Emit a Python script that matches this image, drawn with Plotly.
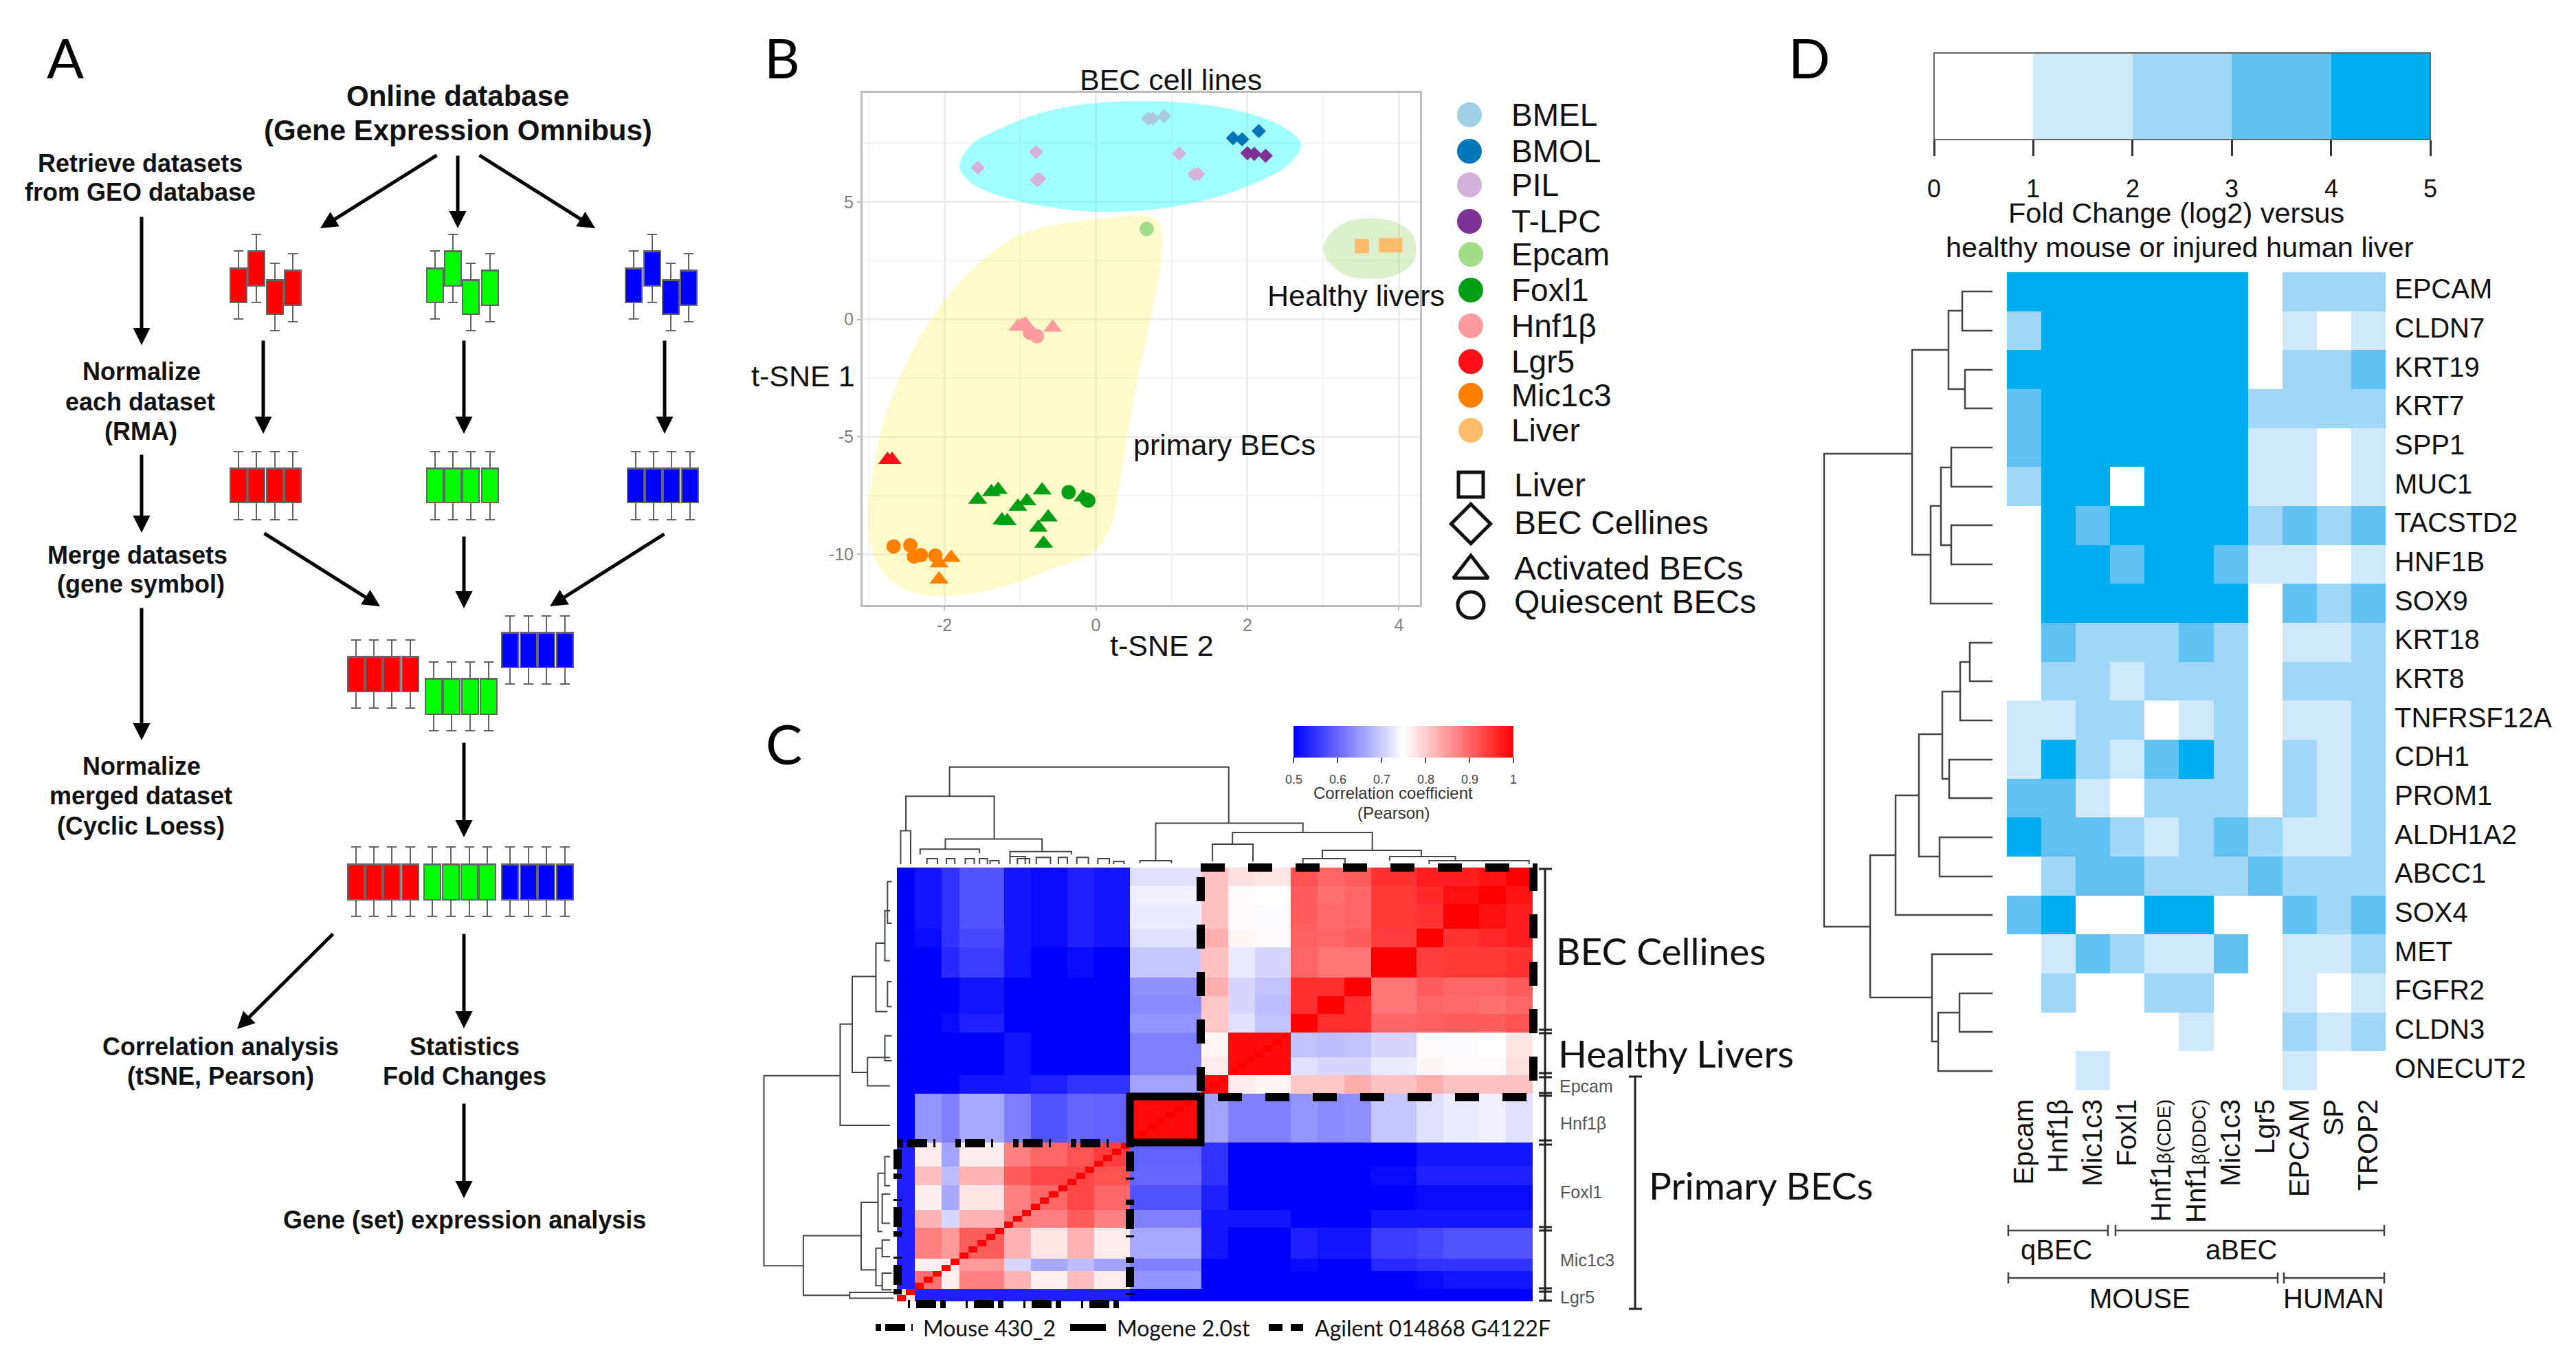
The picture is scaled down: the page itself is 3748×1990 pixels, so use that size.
import numpy as np
import plotly.graph_objects as go

W, H = 3748, 1990
SANS = "Liberation Sans"
HUM = "Lato"

# ---------------- Panel A : pipeline schematic ----------------
BOX_X_ROW1 = {"red": [347, 373, 400, 426], "green": [633, 659, 685, 713], "blue": [922, 949, 976, 1002]}
BOX_BOTTOM_ROW1 = [440, 416, 457, 444]
BOX_TOP_ROW1 = [390, 365, 407, 393]
BOX_LOW_ROW1 = [464, 440, 481, 468]
BOX_HIGH_ROW1 = [365, 341, 383, 369]
BOX_X_ROW2 = {"red": [347, 373, 400, 426], "green": [633, 659, 685, 713], "blue": [925, 951, 977, 1004]}
ROW2 = (731, 681, 756, 657)
BOX_X_ROW3 = {"red": [518, 544, 570, 597], "green": [631, 657, 684, 711], "blue": [742, 769, 795, 822]}
ROW3 = {"red": (1006, 955, 1030, 931), "green": (1039, 987, 1063, 963), "blue": (971, 920, 995, 896)}
BOX_X_ROW4 = {"red": [518, 544, 570, 597], "green": [629, 656, 683, 709], "blue": [742, 769, 795, 822]}
ROW4 = (1309, 1257, 1333, 1232)
BOX_COL = {"red": "#ff0000", "green": "#00ff00", "blue": "#0000ff"}

ARROWS_A = [
    (206, 314, 206, 502), (206, 660, 206, 775), (206, 883, 206, 1077),
    (637, 225, 466, 332), (666, 225, 666, 332), (696, 225, 866, 332),
    (383, 494, 383, 631), (675, 494, 675, 631), (967, 494, 967, 631),
    (383, 775, 553, 882), (675, 779, 675, 885), (968, 776, 800, 882),
    (675, 1079, 675, 1218), (486, 1357, 345, 1497), (675, 1357, 675, 1496),
    (675, 1604, 675, 1743),
]
TEXT_A = [
    ("Online database", 666, 139, 42), ("(Gene Expression Omnibus)", 666, 189, 42),
    ("Retrieve datasets", 204, 237, 36), ("from GEO database", 204, 279, 36),
    ("Normalize", 206, 540, 36), ("each dataset", 204, 584, 36), ("(RMA)", 205, 627, 36),
    ("Merge datasets", 200, 807, 36), ("(gene symbol)", 205, 849, 36),
    ("Normalize", 206, 1114, 36), ("merged dataset", 205, 1157, 36), ("(Cyclic Loess)", 205, 1201, 36),
    ("Correlation analysis", 321, 1522, 36), ("(tSNE, Pearson)", 321, 1565, 36),
    ("Statistics", 676, 1522, 36), ("Fold Changes", 676, 1565, 36),
    ("Gene (set) expression analysis", 676, 1774, 36),
]
PANEL_LETTERS = [("A", 95, 83), ("B", 1138, 83), ("C", 1140, 1081), ("D", 2632, 83)]

# ---------------- Panel B : t-SNE ----------------
BLOB_CYAN_X = [-1.80, -1.65, -1.24, -0.72, -0.09, 0.61, 1.30, 1.94, 2.46, 2.71, 2.55, 2.11, 1.48, 0.72, -0.03, -0.72, -1.30, -1.65, -1.80]
BLOB_CYAN_Y = [6.50, 7.42, 8.16, 8.80, 9.19, 9.30, 9.19, 8.84, 8.22, 7.45, 6.62, 5.82, 5.11, 4.67, 4.58, 4.84, 5.29, 5.82, 6.50]
BLOB_GREEN_X = [3.00, 3.12, 3.35, 3.62, 3.95, 4.17, 4.23, 4.17, 3.95, 3.62, 3.30, 3.10, 3.00]
BLOB_GREEN_Y = [3.02, 3.75, 4.20, 4.31, 4.15, 3.65, 3.02, 2.35, 1.88, 1.72, 1.88, 2.35, 3.02]
BLOB_YELLOW_X = [0.61, 0.81, 0.87, 0.84, 0.72, 0.55, 0.41, 0.29, 0.19, -0.03, -0.55, -1.24, -1.94, -2.46, -2.81, -2.97, -3.00, -2.92, -2.78, -2.52, -2.11, -1.59, -1.01, -0.43, 0.14, 0.61]
BLOB_YELLOW_Y = [4.44, 4.22, 3.51, 2.09, -0.04, -2.52, -5.00, -7.49, -8.91, -9.88, -10.59, -11.39, -11.78, -11.57, -10.77, -9.62, -8.02, -6.07, -4.12, -1.99, 0.32, 2.27, 3.60, 4.08, 4.31, 4.44]

TSNE = [
    ("PIL", "diamond", "#d7b2d8", [-1.56, -0.79, -0.78, -0.75, 1.10, 1.30, 1.35], [6.46, 7.13, 5.94, 5.98, 7.06, 6.18, 6.19]),
    ("BMEL", "diamond", "#a9c9dc", [0.69, 0.75, 0.90], [8.55, 8.55, 8.66]),
    ("BMOL", "diamond", "#0072b9", [1.81, 1.93, 2.15], [7.72, 7.67, 8.02]),
    ("T-LPC", "diamond", "#7b3294", [2.00, 2.09, 2.24], [7.08, 7.05, 6.97]),
    ("Epcam", "circle", "#a1dd88", [0.67], [3.85]),
    ("Foxl1", "triangle-up", "#009f15", [-1.56, -1.38, -1.29, -0.71, -0.17, -0.91, -1.03, -1.24, -1.17, -0.63, -0.76, -0.69],
     [-7.67, -7.35, -7.26, -7.28, -7.58, -7.74, -7.97, -8.55, -8.59, -8.43, -8.87, -9.55]),
    ("Foxl1", "circle", "#009f15", [-0.36, -0.12, -0.10], [-7.36, -7.67, -7.72]),
    ("Hnf1b", "triangle-up", "#ff9a9e", [-1.03, -0.93, -0.98, -0.57], [-0.30, -0.21, -0.27, -0.35]),
    ("Hnf1b", "circle", "#ff9a9e", [-0.87, -0.78], [-0.57, -0.71]),
    ("Lgr5", "triangle-up", "#ff1018", [-2.75, -2.69], [-5.98, -5.98]),
    ("Mic1c3", "circle", "#ff8000", [-2.67, -2.45, -2.40, -2.31, -2.12], [-9.67, -9.62, -10.10, -10.04, -10.06]),
    ("Mic1c3", "triangle-up", "#ff8000", [-1.91, -2.07, -2.07], [-10.15, -10.38, -11.07]),
    ("Liver", "square", "#ffbd6b", [3.51, 3.83, 3.95], [3.12, 3.16, 3.16]),
]
LEG_COLORS = [("BMEL", "#9ecfe4", 2138, 167), ("BMOL", "#0077b8", 2138, 220), ("PIL", "#d2b1d8", 2138, 269),
              ("T-LPC", "#7b3294", 2138, 322), ("Epcam", "#a1dd88", 2140, 370), ("Foxl1", "#009f15", 2140, 422),
              ("Hnf1β", "#ff9a9e", 2140, 474), ("Lgr5", "#ff1018", 2140, 526), ("Mic1c3", "#ff8000", 2140, 575),
              ("Liver", "#ffbd6b", 2140, 626)]
LEG_SHAPES = [("Liver", "square-open", 36, 705, 705), ("BEC Cellines", "diamond-open", 44, 762, 760),
              ("Activated BECs", "triangle-up-open", 44, 830, 826), ("Quiescent BECs", "circle-open", 38, 880, 875)]

# ---------------- Panel C : correlation heatmap ----------------
GROUP_SIZES = [2, 3, 2, 5, 3, 4, 3, 4, 8, 3, 3, 4, 3, 3, 3, 5, 3, 4, 3, 3]
CORR_UPPER = [
    [.78, .53, .53, .53, .53, .53, .53, .53, .50, .50, .50, .50, .50, .50, .50, .50, .50, .50, .50, .50],
    [.89, .765, .875, .825, .765, .815, .77, .645, .50, .50, .50, .50, .50, .50, .50, .51, .52, .52, .52],
    [.775, .85, .71, .665, .685, .66, .625, .50, .50, .50, .51, .50, .50, .54, .55, .55, .55, .55],
    [.91, .825, .775, .825, .77, .665, .52, .50, .50, .53, .52, .52, .56, .57, .58, .58, .58],
    [.88, .875, .91, .875, .625, .52, .52, .52, .50, .50, .50, .52, .52, .52, .52, .52],
    [.90, .93, .90, .58, .53, .50, .50, .50, .50, .50, .50, .51, .51, .51, .51],
    [.93, .92, .60, .55, .50, .50, .50, .50, .50, .51, .53, .53, .53, .53],
    [.94, .595, .55, .50, .50, .50, .50, .50, .50, .52, .52, .52, .52],
    [.99, .66, .625, .625, .645, .635, .64, .695, .72, .73, .735, .72],
    [.99, .77, .76, .805, .805, .83, .81, .83, .81, .81, .81],
    [.99, .99, .72, .71, .71, .73, .76, .755, .755, .78],
    [.99, .69, .685, .69, .71, .755, .745, .75, .775],
    [1.0, .955, .955, .90, .905, .91, .91, .92],
    [1.0, .955, .885, .90, .895, .89, .90],
    [1.0, .885, .91, .90, .90, .91],
    [1.0, .94, .945, .945, .95],
    [1.0, .95, .96, .97],
    [1.0, .985, .97],
    [1.0, .98],
    [1.0],
]
TOP_DENDRO = [(368, 899, 125, 195, 260), (285, 453, 195, 278, 298), (275, 294, 278, 358, 358), (360, 544, 298, 322, 328),
              (312, 425, 322, 335, 332), (483, 600, 328, 340, 335), (325, 345, 345, 358, 358), (362, 378, 345, 358, 358),
              (398, 415, 345, 358, 358), (425, 440, 345, 358, 358), (445, 462, 350, 358, 358), (483, 512, 340, 358, 358),
              (497, 520, 345, 358, 358), (533, 560, 342, 358, 358), (575, 592, 342, 358, 358), (610, 632, 342, 358, 358),
              (650, 672, 345, 358, 358), (680, 700, 352, 358, 358), (760, 1040, 260, 352, 282), (906, 1172, 282, 310, 325),
              (868, 945, 310, 352, 352), (1077, 1265, 325, 345, 340), (730, 790, 350, 356, 356), (1040, 1120, 345, 356, 356),
              (1205, 1330, 340, 350, 350), (1280, 1470, 350, 358, 358)]
LEFT_DENDRO = [(15, 866, 1322, 160, 90), (160, 742, 985, 183, 255), (183, 628, 858, 228, 212), (228, 548, 712, 245, 250),
               (212, 822, 890, 255, 255), (90, 1250, 1393, 200, 178), (200, 1170, 1332, 232, 228), (178, 1386, 1400, 262, 262),
               (245, 470, 590, 255, 255), (250, 400, 500, 258, 258), (250, 640, 700, 258, 258), (245, 770, 830, 258, 258),
               (232, 1100, 1240, 245, 240), (228, 1280, 1370, 240, 240), (245, 1060, 1130, 255, 255), (240, 1150, 1220, 255, 255),
               (240, 1260, 1300, 255, 255), (240, 1340, 1380, 258, 258)]
C_LABELS_BIG = [("BEC Cellines", 2262, 1383), ("Healthy Livers", 2265, 1532), ("Primary BECs", 2397, 1724)]
C_LABELS_SMALL = [("Epcam", 2267, 1580), ("Hnf1β", 2268, 1634), ("Foxl1", 2268, 1734), ("Mic1c3", 2268, 1833), ("Lgr5", 2268, 1887)]
C_BRACKET_Y = [1264, 1498, 1503, 1561, 1567, 1590, 1594, 1659, 1665, 1785, 1790, 1874, 1879, 1892]
C_LEGEND = [("Mouse 430_2", 1341, "8px,6px,29px,9px,3px,29px", 1274, 1328), ("Mogene 2.0st", 1623, "solid", 1557, 1609),
            ("Agilent 014868 G4122F", 1911, "20px,12px", 1846, 1896)]
C_TICKS = [0.5, 0.6, 0.7, 0.8, 0.9, 1]

# ---------------- Panel D : fold change heatmap ----------------
D_GENES = ["EPCAM", "CLDN7", "KRT19", "KRT7", "SPP1", "MUC1", "TACSTD2", "HNF1B", "SOX9", "KRT18", "KRT8", "TNFRSF12A",
           "CDH1", "PROM1", "ALDH1A2", "ABCC1", "SOX4", "MET", "FGFR2", "CLDN3", "ONECUT2"]
SMALLB = '<span style="font-size:28px">β(%s)</span>'
D_SAMPLES = ["Epcam", "Hnf1β", "Mic1c3", "Foxl1", "Hnf1" + SMALLB % "CDE", "Hnf1" + SMALLB % "DDC", "Mic1c3", "Lgr5", "EPCAM", "SP", "TROP2"]
D_FOLD = [
    [4.5, 4.5, 4.5, 4.5, 4.5, 4.5, 4.5, 0.5, 2.5, 2.5, 2.5],
    [2.5, 4.5, 4.5, 4.5, 4.5, 4.5, 4.5, 0.5, 1.5, 0.5, 1.5],
    [4.5, 4.5, 4.5, 4.5, 4.5, 4.5, 4.5, 0.5, 2.5, 2.5, 3.5],
    [3.5, 4.5, 4.5, 4.5, 4.5, 4.5, 4.5, 2.5, 2.5, 2.5, 2.5],
    [3.5, 4.5, 4.5, 4.5, 4.5, 4.5, 4.5, 1.5, 1.5, 0.5, 1.5],
    [2.5, 4.5, 4.5, 0.5, 4.5, 4.5, 4.5, 1.5, 1.5, 0.5, 1.5],
    [0.5, 4.5, 3.5, 4.5, 4.5, 4.5, 4.5, 2.5, 3.5, 2.5, 3.5],
    [0.5, 4.5, 4.5, 3.5, 4.5, 4.5, 3.5, 1.5, 1.5, 0.5, 1.5],
    [0.5, 4.5, 4.5, 4.5, 4.5, 4.5, 4.5, 0.5, 3.5, 2.5, 3.5],
    [0.5, 3.5, 2.5, 2.5, 2.5, 3.5, 2.5, 0.5, 1.5, 1.5, 2.5],
    [0.5, 2.5, 2.5, 1.5, 2.5, 2.5, 2.5, 0.5, 2.5, 2.5, 2.5],
    [1.5, 1.5, 2.5, 2.5, 0.5, 1.5, 2.5, 0.5, 1.5, 1.5, 2.5],
    [1.5, 4.5, 2.5, 1.5, 3.5, 4.5, 2.5, 0.5, 2.5, 1.5, 2.5],
    [3.5, 3.5, 1.5, 0.5, 2.5, 2.5, 2.5, 0.5, 2.5, 1.5, 2.5],
    [4.5, 3.5, 3.5, 2.5, 1.5, 2.5, 3.5, 2.5, 1.5, 1.5, 2.5],
    [0.5, 2.5, 3.5, 3.5, 2.5, 2.5, 2.5, 3.5, 2.5, 2.5, 2.5],
    [3.5, 4.5, 0.5, 0.5, 4.5, 4.5, 0.5, 0.5, 3.5, 2.5, 3.5],
    [0.5, 1.5, 3.5, 2.5, 1.5, 1.5, 3.5, 0.5, 1.5, 1.5, 2.5],
    [0.5, 2.5, 0.5, 0.5, 2.5, 2.5, 0.5, 0.5, 1.5, 0.5, 1.5],
    [0.5, 0.5, 0.5, 0.5, 0.5, 1.5, 0.5, 0.5, 2.5, 1.5, 2.5],
    [0.5, 0.5, 1.5, 0.5, 0.5, 0.5, 0.5, 0.5, 1.5, 0.5, 0.5],
]
D_DENDRO = [(2855, 424, 481, 2899, 2899), (2859, 538, 594, 2899, 2899), (2835, 452, 566, 2855, 2859),
            (2839, 651, 708, 2899, 2899), (2839, 764, 821, 2899, 2899), (2824, 680, 793, 2839, 2839),
            (2809, 736, 878, 2824, 2899), (2782, 509, 807, 2835, 2809), (2654, 660, 1348, 2782, 2721),
            (2866, 935, 991, 2899, 2899), (2852, 963, 1048, 2866, 2899), (2836, 1105, 1161, 2899, 2899),
            (2826, 1006, 1133, 2852, 2836), (2822, 1218, 1275, 2899, 2899), (2792, 1068, 1246, 2826, 2822),
            (2758, 1157, 1331, 2792, 2899), (2851, 1445, 1501, 2899, 2899), (2820, 1473, 1558, 2851, 2899),
            (2811, 1388, 1515, 2899, 2820), (2721, 1244, 1451, 2758, 2811)]
D_BRACKETS = [(2922, 3067, 1790), (3078, 3469, 1790), (2922, 3314, 1859), (3323, 3469, 1859)]
D_BRACKET_TEXT = [("qBEC", 2992, 1818), ("aBEC", 3261, 1818), ("MOUSE", 3113, 1889), ("HUMAN", 3395, 1889)]
D_LEVELS = ["#ffffff", "#cfe9fb", "#a0d6f7", "#62c1f3", "#00aeef"]
D_TICKS = [0, 1, 2, 3, 4, 5]

# ---------------- figure ----------------
fig = go.Figure()
anns, shapes = [], []


def text(s, x, y, size, family=SANS, color="#111111", xanchor="center", **kw):
    anns.append(dict(text=s, x=x, y=y, xref="x", yref="y", showarrow=False, xanchor=xanchor, yanchor="middle",
                     font=dict(family=family, size=size, color=color), **kw))


def lines(xs, ys, color="#444444", width=2.5, **kw):
    fig.add_trace(go.Scatter(x=xs, y=ys, mode="lines", line=dict(color=color, width=width, **kw),
                             hoverinfo="skip", showlegend=False, xaxis="x", yaxis="y"))


def dom(a, b, total):
    return [a / total, b / total]


def ydom(top, bottom):
    return [1 - bottom / H, 1 - top / H]


# Panel A boxes (pixel-like y axis runs downward, so the smaller value is the upper edge)
for name in ["red", "green", "blue"]:
    xs, q1, q3, lo, hi = [], [], [], [], []
    xs += BOX_X_ROW1[name]; q3 += BOX_BOTTOM_ROW1; q1 += BOX_TOP_ROW1; hi += BOX_LOW_ROW1; lo += BOX_HIGH_ROW1
    xs += BOX_X_ROW2[name]; q3 += [ROW2[0]] * 4; q1 += [ROW2[1]] * 4; hi += [ROW2[2]] * 4; lo += [ROW2[3]] * 4
    r = ROW3[name]
    xs += BOX_X_ROW3[name]; q3 += [r[0]] * 4; q1 += [r[1]] * 4; hi += [r[2]] * 4; lo += [r[3]] * 4
    xs += BOX_X_ROW4[name]; q3 += [ROW4[0]] * 4; q1 += [ROW4[1]] * 4; hi += [ROW4[2]] * 4; lo += [ROW4[3]] * 4
    fig.add_trace(go.Box(x=xs, q1=q1, median=q1, q3=q3, lowerfence=lo, upperfence=hi, width=24, whiskerwidth=0.6,
                         fillcolor=BOX_COL[name], line=dict(color="#666666", width=2), boxpoints=False,
                         hoverinfo="skip", showlegend=False, xaxis="x", yaxis="y"))

for x0, y0, x1, y1 in ARROWS_A:
    anns.append(dict(x=x1, y=y1, ax=x0, ay=y0, xref="x", yref="y", axref="x", ayref="y", showarrow=True, text="",
                     arrowhead=2, arrowsize=1, arrowwidth=5, arrowcolor="#000000", standoff=0))
for s, x, y, size in TEXT_A:
    text("<b>%s</b>" % s, x, y, size)
for s, x, y in PANEL_LETTERS:
    text(s, x, y, 80, family=HUM, color="#000000")

# Panel B
for bx, by, col in [(BLOB_CYAN_X, BLOB_CYAN_Y, "rgba(0,255,255,0.37)"),
                    (BLOB_GREEN_X, BLOB_GREEN_Y, "rgba(130,200,80,0.28)"),
                    (BLOB_YELLOW_X, BLOB_YELLOW_Y, "rgba(255,240,100,0.35)")]:
    fig.add_trace(go.Scatter(x=bx, y=by, mode="lines", fill="toself", fillcolor=col,
                             line=dict(shape="spline", width=0, color="rgba(0,0,0,0)"), hoverinfo="skip",
                             showlegend=False, xaxis="x2", yaxis="y2"))
SYM_SIZE = {"diamond": 16, "circle": 21, "triangle-up": 24, "square": 21}
for name, sym, col, xs, ys in TSNE:
    fig.add_trace(go.Scatter(x=xs, y=ys, mode="markers", name=name, showlegend=False, hoverinfo="skip",
                             marker=dict(symbol=sym, size=SYM_SIZE[sym], color=col, line=dict(width=0)),
                             xaxis="x2", yaxis="y2"))
text("BEC cell lines", 1703, 116, 43)
text("Healthy livers", 1842, 430, 43, xanchor="left")
text("primary BECs", 1647, 647, 43, xanchor="left")
text("t-SNE 1", 1168, 547, 43)
text("t-SNE 2", 1690, 939, 43)

for s, col, x, y in LEG_COLORS:
    fig.add_trace(go.Scatter(x=[x], y=[y], mode="markers", marker=dict(size=36, color=col), hoverinfo="skip",
                             showlegend=False, xaxis="x", yaxis="y"))
    text(s, 2197, y, 46, xanchor="left")
for s, sym, size, my, ty in LEG_SHAPES:
    fig.add_trace(go.Scatter(x=[2140], y=[my], mode="markers", hoverinfo="skip", showlegend=False, xaxis="x", yaxis="y",
                             marker=dict(symbol=sym, size=size, color="#111111", line=dict(width=5, color="#111111"))))
    text(s, 2201, ty, 48, xanchor="left")

# Panel C
N = sum(GROUP_SIZES)
blocks = np.zeros((len(GROUP_SIZES), len(GROUP_SIZES)))
for i, row in enumerate(CORR_UPPER):
    for k, v in enumerate(row):
        blocks[i, i + k] = v
        blocks[i + k, i] = v
z_c = np.repeat(np.repeat(blocks, GROUP_SIZES, axis=0), GROUP_SIZES, axis=1)
np.fill_diagonal(z_c, 1.0)
fig.add_trace(go.Heatmap(z=z_c.tolist(), zmin=0.5, zmax=1, hoverinfo="skip",
                         colorscale=[[0, "#0000ff"], [0.5, "#ffffff"], [1, "#ff0000"]], xaxis="x3", yaxis="y3",
                         colorbar=dict(orientation="h", lenmode="pixels", len=320, thicknessmode="pixels", thickness=46,
                                       x=1882 / W, xanchor="left", y=1 - 1110 / H, yanchor="bottom", xpad=0, ypad=0,
                                       tickvals=C_TICKS, showticklabels=False,
                                       ticks="outside", ticklen=8, tickwidth=2, tickcolor="#555555",
                                       outlinewidth=0)))
for t in C_TICKS:
    text(str(t), 1882 + (t - 0.5) * 640, 1134, 18, color="#444444")
text("Correlation coefficient", 2027, 1153, 24, color="#333333")
text("(Pearson)", 2027, 1182, 24, color="#333333")


def cx(d):
    return 1100 + d / 1.307


def cy(d):
    return 1040 + d / 1.65


xs, ys = [], []
for xl, xr, yt, yl, yr in TOP_DENDRO:
    xs += [cx(xl), cx(xl), cx(xr), cx(xr), None]
    ys += [cy(yl), cy(yt), cy(yt), cy(yr), None]
for x, yt, yb, xct, xcb in LEFT_DENDRO:
    xs += [cx(xct), cx(x), cx(x), cx(xcb), None]
    ys += [cy(yt), cy(yt), cy(yb), cy(yb), None]
lines(xs, ys, color="#444444", width=2)

# right brackets of C
bx, by = [2248, 2248, None], [C_BRACKET_Y[0], C_BRACKET_Y[-1], None]
for yy in C_BRACKET_Y:
    bx += [2239, 2258, None]
    by += [yy, yy, None]
bx += [2379, 2379, None, 2370, 2389, None, 2370, 2389, None]
by += [1566, 1904, None, 1566, 1566, None, 1904, 1904, None]
lines(bx, by, color="#222222", width=3)
for s, x, y in C_LABELS_BIG:
    text(s, x, y, 55, family=HUM, xanchor="left")
for s, x, y in C_LABELS_SMALL:
    text(s, x, y, 25, family=SANS, color="#555555", xanchor="left")

shapes.append(dict(type="rect", xref="x", yref="y", x0=1747, x1=2231, y0=1262, y1=1596,
                   line=dict(color="#000000", width=12, dash="35px,34px")))
shapes.append(dict(type="rect", xref="x", yref="y", x0=1644, x1=1747, y0=1595, y1=1662,
                   line=dict(color="#000000", width=11)))
shapes.append(dict(type="rect", xref="x", yref="y", x0=1306, x1=1644, y0=1663, y1=1897,
                   line=dict(color="#000000", width=12, dash="8px,6px,29px,9px,3px,29px")))
for s, tx, dash, l0, l1 in C_LEGEND:
    fig.add_trace(go.Scatter(x=[l0, l1], y=[1931, 1931], mode="lines", hoverinfo="skip", showlegend=False,
                             line=dict(color="#000000", width=10, dash=dash), xaxis="x", yaxis="y"))
    text(s, tx, 1931, 32, family=HUM, xanchor="left")

# Panel D
cs = []
for i, c in enumerate(D_LEVELS):
    cs += [[i / 5, c], [(i + 1) / 5, c]]
fig.add_trace(go.Heatmap(z=D_FOLD, zmin=0, zmax=5, colorscale=cs, hoverinfo="skip", xaxis="x4", yaxis="y4",
                         colorbar=dict(orientation="h", lenmode="pixels", len=722, thicknessmode="pixels", thickness=126,
                                       x=2814 / W, xanchor="left", y=1 - 228 / H, yanchor="bottom", xpad=0, ypad=0,
                                       tickvals=D_TICKS, showticklabels=False, ticks="outside", ticklen=23, tickwidth=3,
                                       tickcolor="#333333", outlinewidth=2, outlinecolor="#666666")))
for t in D_TICKS:
    text(str(t), 2814 + t * 722 / 5, 274, 36)
text("Fold Change (log2) versus", 3166, 309, 41.5)
text("healthy mouse or injured human liver", 3171, 359, 41.5)

xs, ys = [], []
for x, y0, y1, x0, x1 in D_DENDRO:
    xs += [x0, x, x, x1, None]
    ys += [y0, y0, y1, y1, None]
for x0, x1, y in D_BRACKETS:
    xs += [x0, x1, None, x0, x0, None, x1, x1, None]
    ys += [y, y, None, y - 8, y + 8, None, y - 8, y + 8, None]
lines(xs, ys, color="#444444", width=2.5)
for s, x, y in D_BRACKET_TEXT:
    text(s, x, y, 40)

noaxis = dict(visible=False, showgrid=False, zeroline=False, fixedrange=True)
fig.update_layout(
    width=W, height=H, margin=dict(l=0, r=0, t=0, b=0, autoexpand=False),
    paper_bgcolor="white", plot_bgcolor="white", showlegend=False, boxmode="overlay", font=dict(family=SANS),
    annotations=anns, shapes=shapes,
    xaxis=dict(domain=[0, 1], range=[0, W], **noaxis),
    yaxis=dict(domain=[0, 1], range=[H, 0], **noaxis),
    xaxis2=dict(domain=dom(1255, 2066, W), range=[-3.08, 4.277], anchor="y2", tickvals=[-2, 0, 2, 4],
                ticktext=["-2", "0", "2", "4"], showgrid=True, gridcolor="#ececec", gridwidth=3, zeroline=False,
                minor=dict(tickvals=[-3, -1, 1, 3], showgrid=True, gridcolor="#f3f3f3", gridwidth=2, ticks=""),
                showline=True, mirror=True, linecolor="#bdbdbd", linewidth=3, ticks="outside", ticklen=5,
                tickcolor="#bdbdbd", tickwidth=2, tickfont=dict(family=SANS, size=25, color="#7f7f7f")),
    yaxis2=dict(domain=ydom(135, 880), range=[-12.16, 9.65], anchor="x2", tickvals=[-10, -5, 0, 5],
                ticktext=["-10", "-5", "0", "5"], showgrid=True, gridcolor="#ececec", gridwidth=3, zeroline=False,
                minor=dict(tickvals=[-7.5, -2.5, 2.5, 7.5], showgrid=True, gridcolor="#f3f3f3", gridwidth=2, ticks=""),
                showline=True, mirror=True, linecolor="#bdbdbd", linewidth=3, ticks="outside", ticklen=5,
                tickcolor="#bdbdbd", tickwidth=2, tickfont=dict(family=SANS, size=25, color="#7f7f7f")),
    xaxis3=dict(domain=dom(1305, 2230, W), range=[-0.5, N - 0.5], anchor="y3", **noaxis),
    yaxis3=dict(domain=ydom(1262, 1893), range=[-0.5, N - 0.5], anchor="x3", **noaxis),
    xaxis4=dict(domain=dom(2920, 3471, W), range=[-0.5, 10.5], anchor="y4", tickvals=list(range(11)), ticktext=D_SAMPLES,
                tickangle=-90, ticks="", showgrid=False, zeroline=False, ticklabelstandoff=4,
                tickfont=dict(family=SANS, size=40, color="#111111")),
    yaxis4=dict(domain=ydom(396, 1586), range=[20.5, -0.5], anchor="x4", side="right",
                tickvals=[i - 0.07 for i in range(21)], ticktext=D_GENES, ticks="", showgrid=False, zeroline=False,
                ticklabelstandoff=12, tickfont=dict(family=SANS, size=40, color="#111111")),
)
fig.write_html("out.html", config={"displayModeBar": False},
               post_script="document.body.style.margin='0';document.body.style.overflow='hidden';")
